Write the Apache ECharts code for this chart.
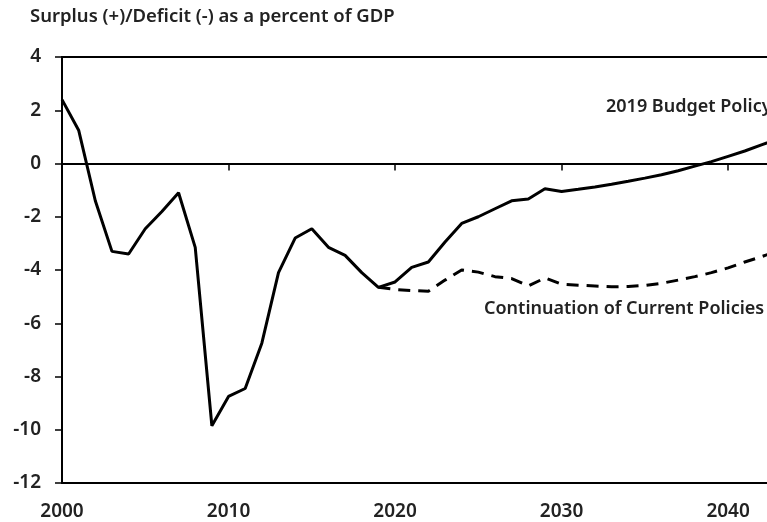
<!DOCTYPE html>
<html>
<head>
<meta charset="utf-8">
<script src="https://cdn.jsdelivr.net/npm/echarts@6/dist/echarts.min.js"></script>
<style>
  html, body { margin: 0; padding: 0; background: #fff; }
  #chart { width: 767px; height: 522px; }
</style>
</head>
<body>
<div id="chart"></div>
<script>
// budget policy path, 2000-2043 (actuals then projection)
var budgetYears = [];
for (var y = 2000; y <= 2043; y++) budgetYears.push(y);
var budgetValues = [
  2.4, 1.25, -1.4, -3.3, -3.4, -2.45, -1.8, -1.1, -3.15, -9.85,
  -8.75, -8.45, -6.75, -4.1, -2.8, -2.45, -3.15, -3.45, -4.1, -4.65,
  -4.45, -3.9, -3.7, -2.95, -2.25, -2.0, -1.7, -1.4, -1.33, -0.95,
  -1.05, -0.97, -0.88, -0.78, -0.67, -0.55, -0.42, -0.27, -0.1, 0.07,
  0.27, 0.47, 0.7, 0.92
];

// continuation of current policies, 2019-2043
var currentYears = [];
for (var y2 = 2019; y2 <= 2043; y2++) currentYears.push(y2);
var currentValues = [
  -4.65, -4.73, -4.77, -4.8, -4.38, -4.0, -4.08, -4.25, -4.32, -4.6,
  -4.3, -4.53, -4.57, -4.6, -4.63, -4.62, -4.58, -4.5, -4.38, -4.25,
  -4.1, -3.92, -3.7, -3.5, -3.28
];

var titleText = 'Surplus (+)/Deficit (-) as a percent of GDP';
var budgetLabel = '2019 Budget Policy';
var currentLabel = 'Continuation of Current Policies';

function pairs(xs, vs) {
  return xs.map(function (x, i) { return [x, vs[i]]; });
}

var font = '"Noto Sans", sans-serif';
var myChart = echarts.init(document.getElementById('chart'));

var option = {
  animation: false,
  backgroundColor: '#fff',
  grid: {
    left: 62, top: 57, bottom: 39, right: -111,
    outerBoundsMode: 'none',
    containLabel: false,
    show: true, borderColor: '#000', borderWidth: 2
  },
  xAxis: {
    type: 'value', min: 2000, max: 2049, interval: 10,
    axisLine: { show: true, lineStyle: { color: '#000', width: 2 } },
    axisTick: { show: true, length: 7, lineStyle: { color: '#000', width: 1.5 } },
    splitLine: { show: false },
    axisLabel: {
      margin: 19, color: '#222', fontSize: 19, fontWeight: 600, fontFamily: font,
      formatter: function (v) { return String(v); }
    }
  },
  yAxis: {
    type: 'value', min: -12, max: 4, interval: 2,
    axisLine: { show: true, lineStyle: { color: '#000', width: 2 } },
    axisTick: { show: true, length: 7, lineStyle: { color: '#000', width: 1.5 } },
    splitLine: { show: false },
    axisLabel: { margin: 21, color: '#222', fontSize: 19, fontWeight: 600, fontFamily: font }
  },
  series: [
    {
      name: budgetLabel,
      type: 'line',
      data: pairs(budgetYears, budgetValues),
      showSymbol: false,
      lineStyle: { color: '#000', width: 3 },
      z: 3,
      markLine: {
        silent: true,
        symbol: 'none',
        label: { show: false },
        lineStyle: { color: '#000', width: 2, type: 'solid' },
        data: [{ yAxis: 0 }]
      }
    },
    {
      name: currentLabel,
      type: 'line',
      data: pairs(currentYears, currentValues),
      showSymbol: false,
      lineStyle: { color: '#000', width: 3, type: [12, 8] },
      z: 2
    }
  ],
  graphic: [
    {
      type: 'text', left: 30, top: 7,
      style: { text: titleText, fill: '#222', font: '600 18.5px ' + font }
    },
    {
      type: 'text', left: 606, top: 98,
      style: { text: budgetLabel, fill: '#222', font: '600 18px ' + font }
    },
    {
      type: 'text', left: 484, top: 300,
      style: { text: currentLabel, fill: '#222', font: '600 18px ' + font }
    }
  ]
};

myChart.setOption(option);
</script>
</body>
</html>
